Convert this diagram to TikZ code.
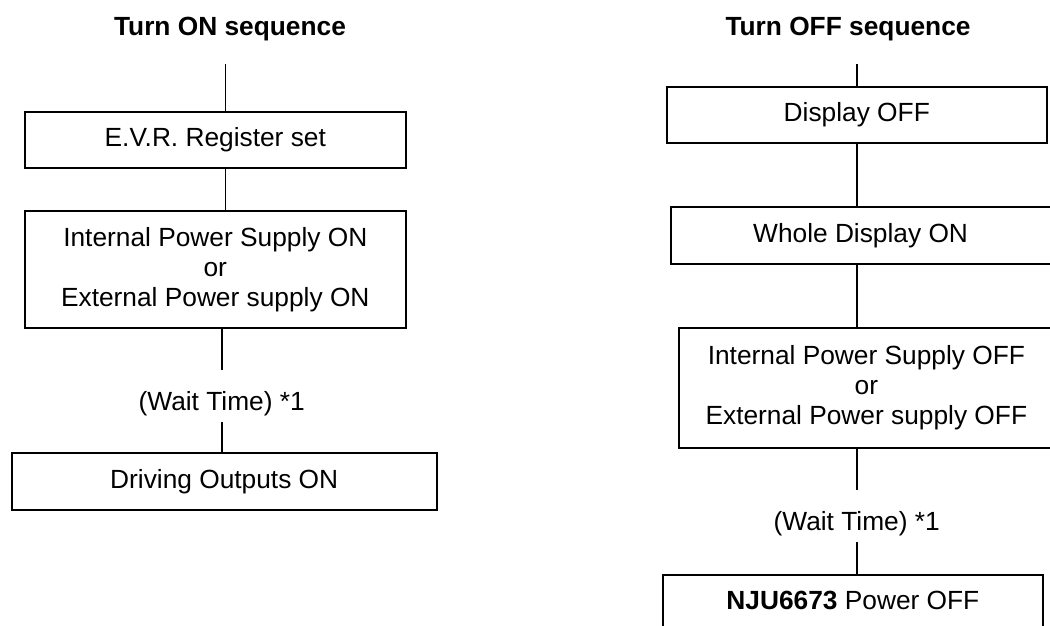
\documentclass[tikz,border=0pt]{standalone}
\usepackage{fontspec}
\setmainfont{Liberation Sans}
\newcommand\myfont{\fontsize{26.3}{30}\selectfont}
\begin{document}
\begin{tikzpicture}[x=1pt,y=-1pt,
  box/.style={draw, line width=2pt, inner sep=0pt, align=center, font=\myfont},
  onebox/.style={box, text height=18.8pt, text depth=5pt},
  conn/.style={line width=1.6pt},
  ttl/.style={font=\myfont\bfseries, inner sep=0pt, anchor=base},
  waittxt/.style={font=\myfont, inner sep=0pt, anchor=base, text height=40pt, text depth=11.7pt}]
\useasboundingbox (0,0) rectangle (1050,626);
\fill[white] (0,0) rectangle (1050,626);
\clip (0,0) rectangle (1050,626);
% titles
\node[ttl] (tl) at (230,35.5) {Turn ON sequence};
\node[ttl] (tr) at (848,35.5) {Turn OFF sequence};
% left column
\node[onebox, minimum width=380.7pt, minimum height=56pt] (l1) at (215.3,140) {E.V.R. Register set};
\node[box, minimum width=380.7pt, minimum height=117pt] (l2) at (215.3,269.5) {Internal Power Supply ON\\or\\External Power supply ON};
\node[waittxt] (lw) at (221.7,410) {(Wait Time) *1};
\node[onebox, minimum width=425pt, minimum height=57pt] (l3) at (224.2,481.5) {Driving Outputs ON};
% right column
\node[onebox, minimum width=380.3pt, minimum height=56pt] (r1) at (856.8,115) {Display OFF};
\node[onebox, minimum width=379.8pt, minimum height=57pt] (r2) at (860.6,235.5) {Whole Display ON};
\node[box, minimum width=375.3pt, minimum height=119.7pt] (r3) at (866.35,387.85) {Internal Power Supply OFF\\or\\External Power supply OFF};
\node[waittxt] (rw) at (856.7,530) {(Wait Time) *1};
\node[box, anchor=north, minimum width=380.3pt, inner ysep=15.2pt, text height=18.8pt, text depth=20pt] (r4) at (852.85,574) {{\bfseries NJU6673} Power OFF};
% connectors left
\coordinate (lt) at (225.3,64);
\draw[conn] (lt) -- (lt |- l1.north);
\draw[conn] (lt |- l1.south) -- (lt |- l2.north);
\draw[conn] (lw.north |- l2.south) -- (lw.north);
\draw[conn] (lw.south) -- (lw.south |- l3.north);
% connectors right
\coordinate (rt) at (856.7,64);
\draw[conn] (rt) -- (rt |- r1.north);
\draw[conn] (rt |- r1.south) -- (rt |- r2.north);
\draw[conn] (rt |- r2.south) -- (rt |- r3.north);
\draw[conn] (rw.north |- r3.south) -- (rw.north);
\draw[conn] (rw.south) -- (rw.south |- r4.north);
\end{tikzpicture}
\end{document}
